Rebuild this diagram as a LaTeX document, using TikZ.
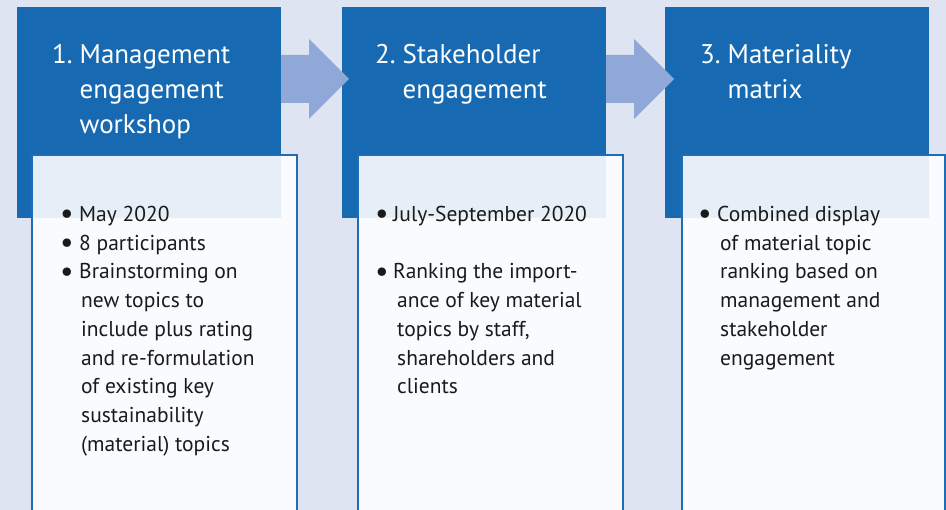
\documentclass[tikz,border=0pt]{standalone}
\usepackage{fontspec}
\setmainfont{PT Sans}
\usetikzlibrary{calc}
\definecolor{bgc}{HTML}{DFE4F3}
\definecolor{darkb}{HTML}{176AB1}
\definecolor{arrowc}{HTML}{8FA8D8}
\definecolor{lightov}{HTML}{E6EEF7}
\definecolor{lightc}{HTML}{F9FBFE}
\definecolor{borderc}{HTML}{1F6DB4}
\definecolor{txt}{HTML}{1A1A1A}
\newcommand\mybul[1]{\makebox[#1][l]{\hspace{-3pt}\smash{\raisebox{-2.5pt}{\fontsize{30}{28}\selectfont •}}}}
\begin{document}
\begin{tikzpicture}[x=1pt,y=-1pt,
  darkbox/.style={fill=darkb, draw=none, minimum width=264pt, minimum height=211pt, inner sep=0pt, outer sep=0pt, anchor=north west},
  lightbox/.style={fill=lightc, draw=none, minimum height=380pt, inner sep=0pt, outer sep=0pt, anchor=north west},
  lightborder/.style={draw=borderc, line width=2.5pt},
  headtext/.style={text=white, font=\fontsize{27}{35}\selectfont, align=left, inner sep=0pt, anchor=north west},
  bodytext/.style={text=txt, font=\fontsize{21.5}{28.75}\selectfont, align=left, inner sep=0pt, anchor=north west},
  blockarrow/.style={fill=arrowc, draw=none}]
\useasboundingbox (0,0) rectangle (946,510);
\clip (0,0) rectangle (946,510);
\fill[bgc] (0,0) rectangle (946,510);
% dark boxes
\node[darkbox] (d1) at (17,7) {};
\node[darkbox] (d2) at (342,7) {};
\node[darkbox] (d3) at (665,7) {};
% block arrows
\foreach \a/\b in {d1/d2, d2/d3}{
  \fill[blockarrow] ($(\a.north east)+(0,48)$) -- ($(\a.north east)+(28,48)$) -- ($(\a.north east)+(28,32)$)
    -- ($(\a.north east)+(68,72)$) -- ($(\a.north east)+(28,112)$) -- ($(\a.north east)+(28,96)$)
    -- ($(\a.north east)+(0,96)$) -- cycle;
}
% light boxes
\node[lightbox, minimum width=265pt] (l1) at (32,155) {};
\node[lightbox, minimum width=265pt] (l2) at (358,155) {};
\node[lightbox, minimum width=263pt] (l3) at (682,155) {};
\foreach \d/\l in {d1/l1, d2/l2, d3/l3}{
  \fill[lightov] (\l.north west) rectangle (\d.south east);
  \draw[lightborder] (\l.south west) -- (\l.north west) -- (\l.north east) -- (\l.south east);
}
% headings
\node[headtext] (h1) at (52,38.5) {\strut\makebox[27.5pt][l]{1.}Management\\\hspace*{27.5pt}engagement\\\hspace*{27.5pt}workshop};
\node[headtext] (h2) at (375,38.5) {\strut\makebox[27.5pt][l]{2.}Stakeholder\\\hspace*{27.5pt}engagement};
\node[headtext] (h3) at (700,38.5) {\strut\makebox[27.5pt][l]{3.}Materiality\\\hspace*{27.5pt}matrix};
% bodies
\node[bodytext] (b1) at (63,201) {\strut\mybul{16pt}May 2020\\
\mybul{16pt}8 participants\\
\mybul{16pt}Brainstorming on\\
\hspace*{18pt}new topics to\\
\hspace*{18pt}include plus rating\\
\hspace*{18pt}and re-formulation\\
\hspace*{18pt}of existing key\\
\hspace*{18pt}sustainability\\
\hspace*{18pt}(material) topics};
\node[bodytext] (b2) at (378,201) {\strut\mybul{15pt}July-September 2020\\
\mbox{}\\
\mybul{15pt}Ranking the import-\\
\hspace*{19pt}ance of key material\\
\hspace*{19pt}topics by staff,\\
\hspace*{19pt}shareholders and\\
\hspace*{19pt}clients};
\node[bodytext] (b3) at (701,201) {\strut\mybul{16pt}Combined display\\
\hspace*{19pt}of material topic\\
\hspace*{19pt}ranking based on\\
\hspace*{19pt}management and\\
\hspace*{19pt}stakeholder\\
\hspace*{19pt}engagement};
\end{tikzpicture}
\end{document}
